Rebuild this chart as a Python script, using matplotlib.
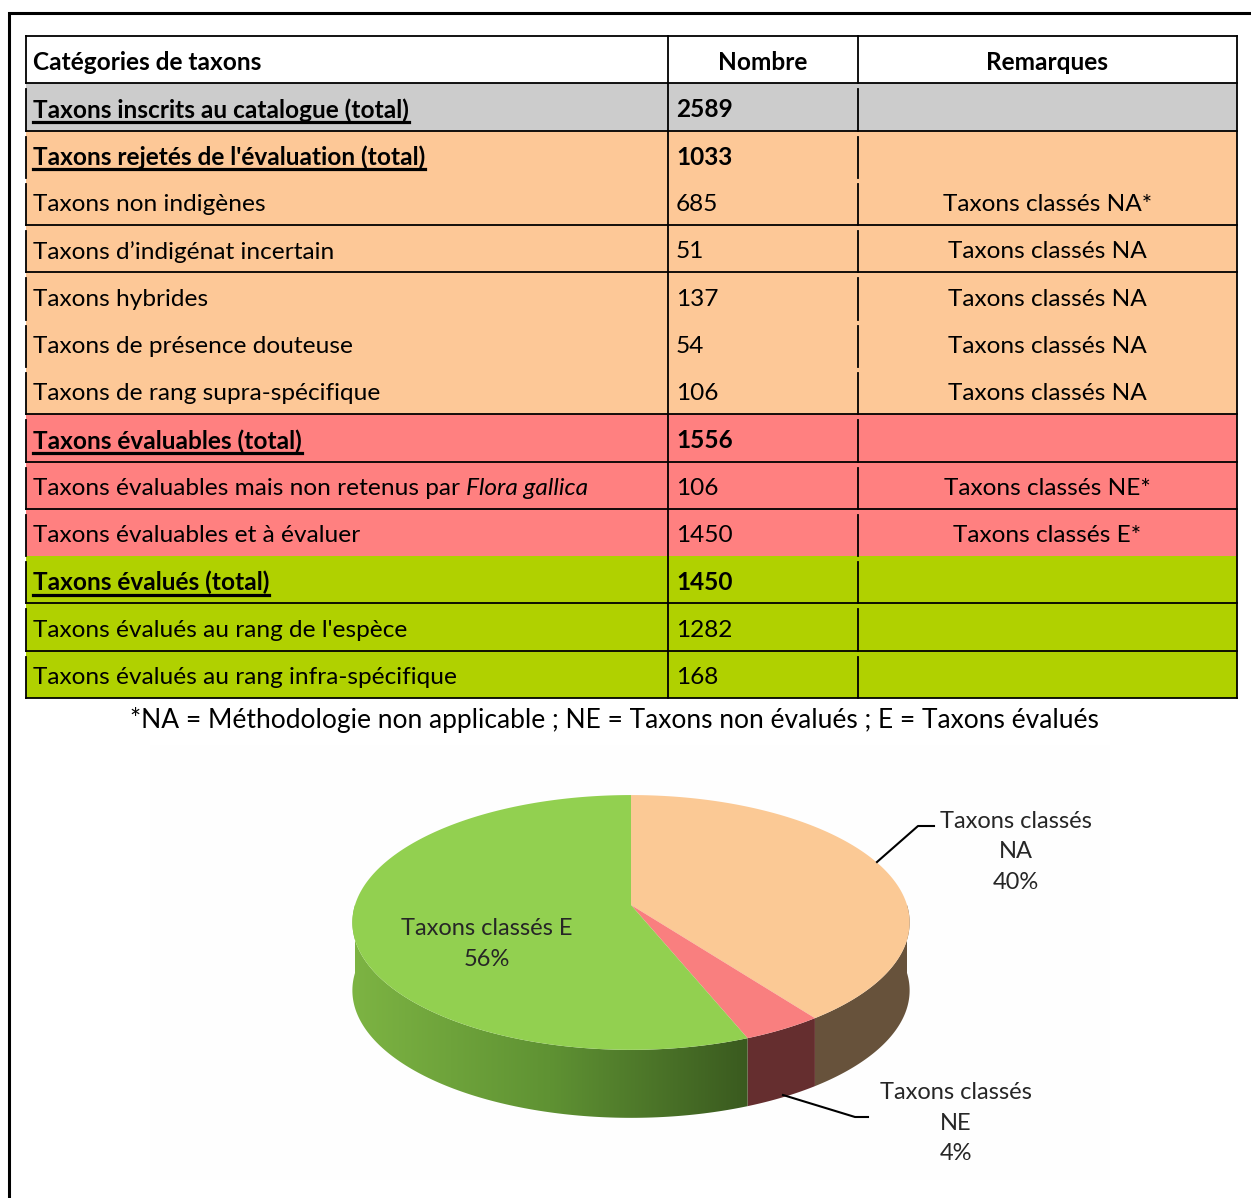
import numpy as np
import matplotlib.pyplot as plt
from matplotlib.patches import Rectangle, Polygon
from matplotlib.colors import LinearSegmentedColormap

plt.rcParams['font.family'] = ['Lato', 'DejaVu Sans']

# table data
categories = ["Taxons inscrits au catalogue (total)",
              "Taxons rejetés de l'évaluation (total)",
              "Taxons non indigènes",
              "Taxons d\u2019indigénat incertain",
              "Taxons hybrides",
              "Taxons de présence douteuse",
              "Taxons de rang supra-spécifique",
              "Taxons évaluables (total)",
              "Taxons évaluables mais non retenus par ",
              "Taxons évaluables et à évaluer",
              "Taxons évalués (total)",
              "Taxons évalués au rang de l'espèce",
              "Taxons évalués au rang infra-spécifique"]
counts = [2589, 1033, 685, 51, 137, 54, 106, 1556, 106, 1450, 1450, 1282, 168]
remarks = ["", "", "Taxons classés NA*", "Taxons classés NA", "Taxons classés NA",
           "Taxons classés NA", "Taxons classés NA", "", "Taxons classés NE*",
           "Taxons classés E*", "", "", ""]
is_total = [True, True, False, False, False, False, False, True, False, False, True, False, False]
groups = ["cat", "rej", "rej", "rej", "rej", "rej", "rej", "eva", "eva", "eva", "ok", "ok", "ok"]
headers = ["Catégories de taxons", "Nombre", "Remarques"]
footnote = "*NA = Méthodologie non applicable ; NE = Taxons non évalués ; E = Taxons évalués"

# pie data
pie_labels = ["Taxons classés\nNA", "Taxons classés\nNE", "Taxons classés E"]
pie_values = [1033, 106, 1450]

group_colors = {"cat": "#cccccc", "rej": "#fdc897", "eva": "#ff8080", "ok": "#b0d100"}
top_colors = ["#fbc995", "#f97f7f", "#92d050"]
side_colors = ["#67523b", "#652e2f", None]

fig = plt.figure(figsize=(12.51, 11.98), dpi=100)
ax = fig.add_axes([0, 0, 1, 1])
ax.set_xlim(0, 1251)
ax.set_ylim(1198, 0)
ax.axis('off')

# outer frame
ax.plot([9, 9, 1251], [1198, 13, 13], color='black', lw=2.2, solid_joinstyle='miter')

# table geometry
xs = [26, 668, 858, 1237]
y0 = 36
rh = (698 - 36) / 14
fs = 17.6
dy = 3  # text sits a bit below the row middle

# header
ax.add_patch(Rectangle((xs[0], y0), xs[3] - xs[0], rh, fc='white', ec='none'))
ax.text(33, y0 + rh / 2 + dy, headers[0], fontsize=fs, fontweight='bold', va='center')
ax.text((xs[1] + xs[2]) / 2, y0 + rh / 2 + dy, headers[1], fontsize=fs, fontweight='bold', va='center', ha='center')
ax.text((xs[2] + xs[3]) / 2, y0 + rh / 2 + dy, headers[2], fontsize=fs, fontweight='bold', va='center', ha='center')

totals = []
for i, cat in enumerate(categories):
    top = y0 + rh * (i + 1)
    yc = top + rh / 2 + dy
    ax.add_patch(Rectangle((xs[0], top), xs[3] - xs[0], rh, fc=group_colors[groups[i]], ec='none'))
    w = 'bold' if is_total[i] else 'normal'
    t = ax.text(33, yc, cat, fontsize=fs, fontweight=w, va='center')
    if is_total[i]:
        totals.append((t, top))
    if cat.endswith("par "):
        ax.annotate("Flora gallica", xy=(1, 0), xycoords=t, fontsize=fs, style='italic', va='bottom')
    ax.text(676, yc, str(counts[i]), fontsize=fs, fontweight=w, va='center')
    if remarks[i]:
        ax.text((xs[2] + xs[3]) / 2, yc, remarks[i], fontsize=fs, va='center', ha='center')

# horizontal rules
hl_rows = [0, 1, 2, 4, 5, 8, 9, 10, 12, 13, 14]
for r in hl_rows:
    y = y0 + rh * r
    ax.plot([xs[0], xs[3]], [y, y], color='black', lw=1.3)
# vertical rules
ax.plot([xs[1], xs[1]], [y0, 698], color='black', lw=1.3)
ax.plot([xs[3], xs[3]], [y0, 698], color='black', lw=1.3)
for r in range(14):
    ya = y0 + rh * r + (0 if r == 0 else 6)
    yb = y0 + rh * (r + 1)
    ax.plot([xs[0], xs[0]], [ya, yb], color='black', lw=1.3)
    ax.plot([xs[2], xs[2]], [ya, yb], color='black', lw=1.3)

ax.text(614, 720, footnote, fontsize=19, va='center', ha='center')

# chart area background
ax.add_patch(Rectangle((150, 745), 960, 435, fc='#fefefe', ec='none', zorder=0))

# 3d pie
cx, cy, rx, ry, p, depth = 631, 905, 276, 125, 0.137, 68


def rim(theta_deg):
    th = np.radians(theta_deg)
    s = 1 / (1 + p * np.sin(th))
    return cx + rx * np.cos(th) * s, cy - ry * np.sin(th) * s


fracs = np.array(pie_values) / sum(pie_values)
starts = 90 - 360 * np.concatenate([[0], np.cumsum(fracs)[:-1]])
ends = starts - 360 * fracs

# side walls (front half only, theta in [-180, 0])
for k in range(3):
    a = min(starts[k], 0)
    b = max(ends[k], -180)
    if a <= b:
        continue
    th = np.linspace(a, b, 120)
    px, py = rim(th)
    poly = np.column_stack([np.concatenate([px, px[::-1]]),
                            np.concatenate([py, py[::-1] + depth])])
    if side_colors[k] is not None:
        ax.add_patch(Polygon(poly, closed=True, fc=side_colors[k], ec='none', zorder=2))
    else:
        patch = Polygon(poly, closed=True, fc='none', ec='none', zorder=2)
        ax.add_patch(patch)
        grad = np.linspace(0, 1, 256).reshape(1, -1)
        cmap = LinearSegmentedColormap.from_list('g', ['#7db443', '#5f9233', '#3a5a1f'])
        im = ax.imshow(grad, cmap=cmap, extent=(px.min(), px.max(), py.max() + depth, py.min()),
                       aspect='auto', zorder=2, interpolation='bilinear')
        im.set_clip_path(patch)

# top faces
for k in range(3):
    th = np.linspace(starts[k], ends[k], 200)
    px, py = rim(th)
    poly = np.column_stack([np.concatenate([[cx], px]), np.concatenate([[cy], py])])
    ax.add_patch(Polygon(poly, closed=True, fc=top_colors[k], ec='none', zorder=3))

ax.set_xlim(0, 1251)
ax.set_ylim(1198, 0)

# pie labels
pcts = [f"{round(f * 100):d}%" for f in fracs]
lab_col = '#262626'
pfs = 17
ax.text(1016, 852, pie_labels[0] + "\n" + pcts[0], ha='center', va='center', fontsize=pfs,
        color=lab_col, linespacing=1.55, zorder=5)
ax.plot([877, 918, 934], [862, 826, 826], color='black', lw=1.5, zorder=5)
ax.text(956, 1123, pie_labels[1] + "\n" + pcts[1], ha='center', va='center', fontsize=pfs,
        color=lab_col, linespacing=1.55, zorder=5)
ax.plot([783, 855, 868], [1095, 1117, 1117], color='black', lw=1.5, zorder=5)
ax.text(487, 944, pie_labels[2] + "\n" + pcts[2], ha='center', va='center', fontsize=pfs,
        color=lab_col, linespacing=1.55, zorder=5)

# underline the total rows
fig.canvas.draw()
inv = ax.transData.inverted()
for t, top in totals:
    bb = t.get_window_extent()
    (x_a, _), (x_b, _) = inv.transform([[bb.x0, bb.y0], [bb.x1, bb.y0]])
    ax.plot([x_a, x_b], [top + 38.5, top + 38.5], color='black', lw=2.3)

fig.savefig('out.png', dpi=100)
